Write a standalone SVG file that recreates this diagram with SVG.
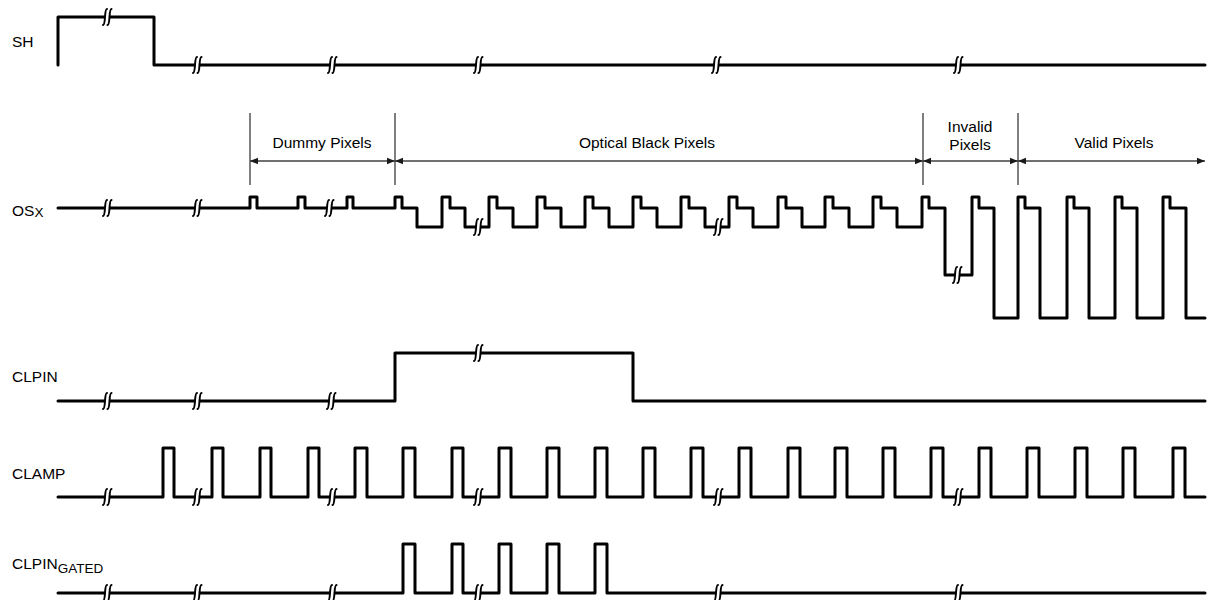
<svg xmlns="http://www.w3.org/2000/svg" xmlns:xlink="http://www.w3.org/1999/xlink" width="1207" height="600" viewBox="0 0 1207 600">
<style>
.sig{fill:none;stroke:#000;stroke-width:3;stroke-linejoin:round;stroke-linecap:round}
.lbl{font-family:"Liberation Sans",Arial,sans-serif;font-size:15.5px;fill:#000}
.sub{font-size:13.5px}
.dim{font-family:"Liberation Sans",Arial,sans-serif;font-size:15.5px;fill:#000;text-anchor:middle}
.ext{stroke:#000;stroke-width:1}
.arr{stroke:#404040;stroke-width:1.4;fill:none}
.bc{fill:none;stroke:#000;stroke-width:2;stroke-linecap:round}
</style>
<defs>
<marker id="ah" viewBox="0 0 10 10" refX="10" refY="5" markerWidth="8" markerHeight="8" markerUnits="userSpaceOnUse" orient="auto-start-reverse">
<path d="M0,1 L10,5 L0,9 z" fill="#1a1a1a"/>
</marker>
<g id="brk">
<rect x="-2" y="-2.6" width="4.5" height="5.2" fill="#fff"/>
<path class="bc" d="M-4,8 C-1,8 -3,-8 0,-8"/>
<path class="bc" d="M0.5,8 C3.5,8 1.5,-8 4.5,-8"/>
</g>
</defs>
<rect width="1207" height="600" fill="#fff"/>

<g id="sh">
<text class="lbl" x="12" y="47">SH</text>
<path class="sig" d="M58,65 V17 H154 V65 H1205"/>
<use xlink:href="#brk" x="107" y="17"/>
<use xlink:href="#brk" x="197" y="65"/>
<use xlink:href="#brk" x="332" y="65"/>
<use xlink:href="#brk" x="478" y="65"/>
<use xlink:href="#brk" x="716" y="65"/>
<use xlink:href="#brk" x="958" y="65"/>
</g>

<g id="osx">
<text class="lbl" x="12" y="216">OS<tspan class="sub" dy="1">X</tspan></text>
<path class="sig" d="M58,208 H250 V197 H257 V208 H298 V197 H305 V208 H347 V197 H353 V208 H395 V197 H402 V208 H417 V227 H442 V197 H450 V208 H465 V227 H489 V197 H497 V208 H513 V227 H537 V197 H545 V208 H561 V227 H585 V197 H593 V208 H609 V227 H633 V197 H641 V208 H657 V227 H681 V197 H689 V208 H705 V227 H729 V197 H737 V208 H753 V227 H778 V197 H786 V208 H802 V227 H825 V197 H833 V208 H849 V227 H873 V197 H881 V208 H897 V227 H922 V197 H929 V208 H945 V275 H972 V197 H979 V208 H994 V318 H1018 V197 H1025 V208 H1040 V318 H1067 V197 H1074 V208 H1089 V318 H1115 V197 H1122 V208 H1137 V318 H1163 V197 H1170 V208 H1186 V318 H1205"/>
<use xlink:href="#brk" x="107" y="208"/>
<use xlink:href="#brk" x="197" y="208"/>
<use xlink:href="#brk" x="329" y="208"/>
<use xlink:href="#brk" x="478" y="227"/>
<use xlink:href="#brk" x="718" y="227"/>
<use xlink:href="#brk" x="957" y="275"/>
</g>

<g id="clpin">
<text class="lbl" x="12" y="382">CLPIN</text>
<path class="sig" d="M58,401 H395 V353 H633 V401 H1205"/>
<use xlink:href="#brk" x="107" y="401"/>
<use xlink:href="#brk" x="197" y="401"/>
<use xlink:href="#brk" x="331" y="401"/>
<use xlink:href="#brk" x="478" y="353"/>
</g>

<g id="clamp">
<text class="lbl" x="12" y="479">CLAMP</text>
<path class="sig" d="M58,497 H163 V448 H174 V497 H212 V448 H223 V497 H260 V448 H271 V497 H308 V448 H319 V497 H355 V448 H367 V497 H403 V448 H415 V497 H452 V448 H463 V497 H499 V448 H511 V497 H547 V448 H559 V497 H595 V448 H607 V497 H643 V448 H655 V497 H691 V448 H703 V497 H739 V448 H751 V497 H788 V448 H800 V497 H835 V448 H847 V497 H883 V448 H895 V497 H931 V448 H943 V497 H979 V448 H991 V497 H1027 V448 H1039 V497 H1075 V448 H1087 V497 H1123 V448 H1135 V497 H1173 V448 H1185 V497 H1205"/>
<use xlink:href="#brk" x="107" y="497"/>
<use xlink:href="#brk" x="197" y="497"/>
<use xlink:href="#brk" x="332" y="497"/>
<use xlink:href="#brk" x="478" y="497"/>
<use xlink:href="#brk" x="718" y="497"/>
<use xlink:href="#brk" x="958" y="497"/>
</g>

<g id="clpin-gated">
<text class="lbl" x="12" y="569">CLPIN<tspan class="sub" dy="4">GATED</tspan></text>
<path class="sig" d="M58,593 H403 V544 H415 V593 H452 V544 H463 V593 H499 V544 H511 V593 H547 V544 H559 V593 H595 V544 H607 V593 H1205"/>
<use xlink:href="#brk" x="107" y="593"/>
<use xlink:href="#brk" x="197" y="593"/>
<use xlink:href="#brk" x="332" y="593"/>
<use xlink:href="#brk" x="478" y="593"/>
<use xlink:href="#brk" x="718" y="593"/>
<use xlink:href="#brk" x="958" y="593"/>
</g>

<g id="connectors">
<line class="ext" x1="250" y1="113" x2="250" y2="185"/>
<line class="ext" x1="395" y1="113" x2="395" y2="185"/>
<line class="ext" x1="923" y1="113" x2="923" y2="185"/>
<line class="ext" x1="1018" y1="113" x2="1018" y2="185"/>
<line class="arr" x1="250" y1="161" x2="395" y2="161" marker-start="url(#ah)" marker-end="url(#ah)"/>
<line class="arr" x1="395" y1="161" x2="923" y2="161" marker-start="url(#ah)" marker-end="url(#ah)"/>
<line class="arr" x1="923" y1="161" x2="1018" y2="161" marker-start="url(#ah)" marker-end="url(#ah)"/>
<line class="arr" x1="1018" y1="161" x2="1205" y2="161" marker-start="url(#ah)" marker-end="url(#ah)"/>
</g>

<g id="dim-labels">
<text class="dim" x="322" y="148">Dummy Pixels</text>
<text class="dim" x="647" y="148">Optical Black Pixels</text>
<text class="dim" x="970" y="132">Invalid</text>
<text class="dim" x="970" y="150">Pixels</text>
<text class="dim" x="1114" y="148">Valid Pixels</text>
</g>
</svg>
